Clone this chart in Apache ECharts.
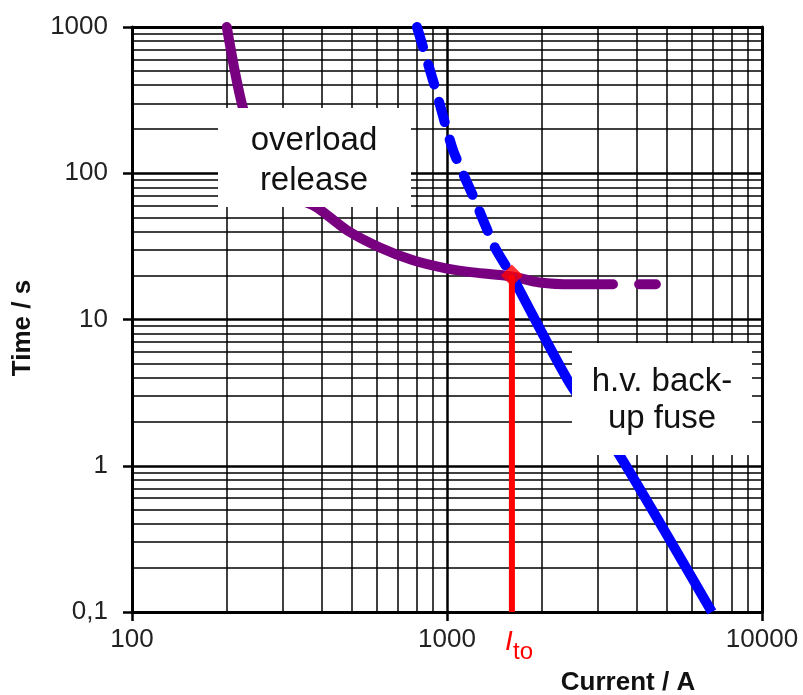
<!DOCTYPE html>
<html>
<head>
<meta charset="utf-8">
<script src="https://cdn.jsdelivr.net/npm/echarts@6/dist/echarts.min.js"></script>
<style>
  html, body { margin: 0; padding: 0; background: #fff; }
  #main { width: 803px; height: 695px; }
</style>
</head>
<body>
<div id="main"></div>
<script>
// current in A, time in s
var overloadI = [200, 225, 254, 295, 341, 386, 482, 612, 780, 1000, 1210, 1607, 1972, 2512, 3365];
var overloadT = [1000, 279, 144, 90, 67, 58.5, 40.7, 31.1, 25.4, 22.3, 21.0, 19.7, 17.9, 17.4, 17.4];
var overloadExtI = [4074, 4603];
var overloadExtT = [17.4, 17.4];

var fuseDashI = [803, 916, 1045, 1227, 1420, 1607];
var fuseDashT = [1000, 388, 144, 65.3, 31, 20];
var fuseSolidI = [1607, 2455, 3540, 6934];
var fuseSolidT = [20, 3.65, 1.17, 0.1];

var takeoverI = 1607;
var takeoverT = [20, 0.1];

var xDecades = [100, 1000, 10000];
var xTickLabels = ['100', '1000', '10000'];
var yDecades = [0.1, 1, 10, 100, 1000];
var yTickLabels = ['0,1', '1', '10', '100', '1000'];

function pairs(xs, ys) {
  return xs.map(function (x, i) { return [x, ys[i]]; });
}
function tickLabel(values, labels) {
  return function (v) {
    var i = values.indexOf(+Number(v).toPrecision(6));
    return i >= 0 ? labels[i] : '';
  };
}

// minor grid (2..9 within each decade)
var minorLines = [];
xDecades.slice(0, -1).forEach(function (d) {
  for (var k = 2; k <= 9; k++) minorLines.push({ xAxis: d * k });
});
yDecades.slice(0, -1).forEach(function (d) {
  for (var k = 2; k <= 9; k++) minorLines.push({ yAxis: +(d * k).toPrecision(6) });
});

var myChart = echarts.init(document.getElementById('main'));
var font = 'Liberation Sans, Arial, sans-serif';

var option = {
  animation: false,
  grid: { left: 132, right: 41, top: 27, bottom: 83 },
  xAxis: [
    {
      type: 'log', min: 100, max: 10000, logBase: 10,
      axisLine: { onZero: false, lineStyle: { color: '#000', width: 3 } },
      axisTick: { show: true, length: 9, lineStyle: { color: '#000', width: 2.5 } },
      axisLabel: { fontFamily: font, fontSize: 26, color: '#222', margin: 15, formatter: tickLabel(xDecades, xTickLabels) },
      splitLine: { show: true, lineStyle: { color: '#000', width: 2.5 } }
    },
    {
      type: 'log', min: 100, max: 10000, position: 'top',
      axisLine: { onZero: false, lineStyle: { color: '#000', width: 3 } },
      axisTick: { show: false }, axisLabel: { show: false }, splitLine: { show: false }
    }
  ],
  yAxis: [
    {
      type: 'log', min: 0.1, max: 1000, logBase: 10,
      axisLine: { onZero: false, lineStyle: { color: '#000', width: 3 } },
      axisTick: { show: true, length: 9, lineStyle: { color: '#000', width: 2.5 } },
      axisLabel: { fontFamily: font, fontSize: 26, color: '#222', margin: 24, formatter: tickLabel(yDecades, yTickLabels) },
      splitLine: { show: true, lineStyle: { color: '#000', width: 2.5 } }
    },
    {
      type: 'log', min: 0.1, max: 1000, position: 'right',
      axisLine: { onZero: false, lineStyle: { color: '#000', width: 3 } },
      axisTick: { show: false }, axisLabel: { show: false }, splitLine: { show: false }
    }
  ],
  series: [
    {
      name: 'grid', type: 'line', data: [], silent: true, z: 1,
      markLine: {
        silent: true, symbol: 'none', animation: false, z: 1,
        label: { show: false },
        lineStyle: { color: '#000', width: 1.5, type: 'solid' },
        data: minorLines
      }
    },
    {
      name: 'overload release', type: 'line', smooth: 0.3, showSymbol: false, z: 3,
      lineStyle: { color: '#780080', width: 10, cap: 'round' },
      data: pairs(overloadI, overloadT)
    },
    {
      name: 'overload release ext', type: 'line', showSymbol: false, z: 3,
      lineStyle: { color: '#780080', width: 10, cap: 'round' },
      data: pairs(overloadExtI, overloadExtT)
    },
    {
      name: 'fuse dashed', type: 'line', smooth: 0.2, showSymbol: false, z: 3,
      lineStyle: { color: '#0000ff', width: 10, type: [21, 18], cap: 'round' },
      data: pairs(fuseDashI, fuseDashT)
    },
    {
      name: 'fuse', type: 'line', smooth: 0.2, showSymbol: false, z: 3,
      lineStyle: { color: '#0000ff', width: 10 },
      data: pairs(fuseSolidI, fuseSolidT)
    },
    {
      name: 'Ito', type: 'line', z: 4,
      symbol: 'none',
      lineStyle: { color: '#ff0000', width: 6 },
      data: takeoverT.map(function (t) { return [takeoverI, t]; })
    },
    {
      name: 'Ito point', type: 'scatter', z: 5,
      symbol: 'diamond', symbolSize: [22, 22],
      itemStyle: { color: '#ff0000' },
      data: [[takeoverI, takeoverT[0]]]
    }
  ],
  graphic: [
    { type: 'rect', z: 100, shape: { x: 218, y: 108, width: 193, height: 99 }, style: { fill: '#fff' } },
    {
      type: 'text', z: 101, x: 314, y: 161,
      style: { text: 'overload\nrelease', font: '33px ' + font, fill: '#111', align: 'center', verticalAlign: 'middle', lineHeight: 40 }
    },
    { type: 'rect', z: 100, shape: { x: 572, y: 343, width: 180, height: 112 }, style: { fill: '#fff' } },
    {
      type: 'text', z: 101, x: 662, y: 400,
      style: { text: 'h.v. back-\nup fuse', font: '33px ' + font, fill: '#111', align: 'center', verticalAlign: 'middle', lineHeight: 37 }
    },
    {
      type: 'text', z: 101, x: 628, y: 683,
      style: { text: 'Current / A', font: 'bold 26px ' + font, fill: '#111', align: 'center', verticalAlign: 'middle' }
    },
    {
      type: 'text', z: 101, x: 23, y: 328, rotation: Math.PI / 2,
      style: { text: 'Time / s', font: 'bold 26px ' + font, fill: '#111', align: 'center', verticalAlign: 'middle' }
    },
    {
      type: 'text', z: 101, x: 509, y: 642,
      style: { text: 'I', font: 'italic 28px ' + font, fill: '#ff0000', align: 'center', verticalAlign: 'middle' }
    },
    {
      type: 'text', z: 101, x: 513, y: 652,
      style: { text: 'to', font: '24px ' + font, fill: '#ff0000', align: 'left', verticalAlign: 'middle' }
    }
  ]
};
myChart.setOption(option);
</script>
</body>
</html>
